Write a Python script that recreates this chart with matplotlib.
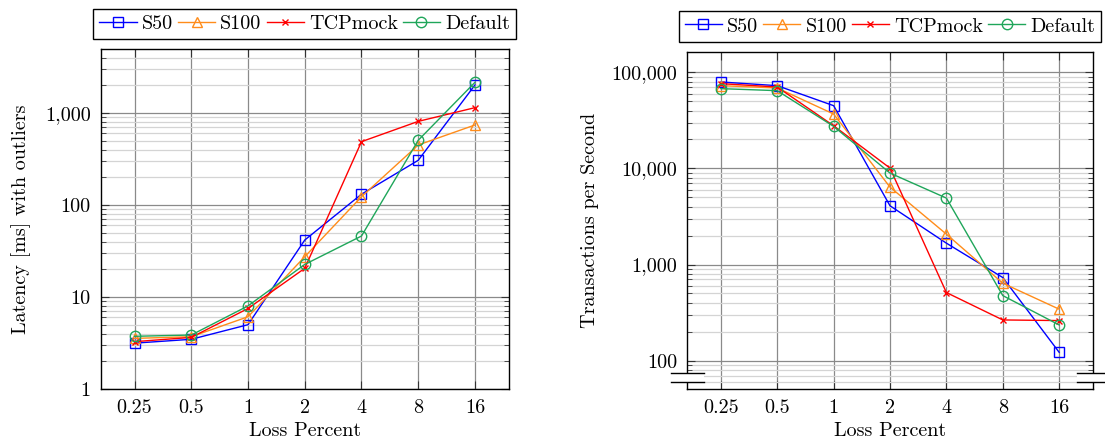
import matplotlib
matplotlib.use("Agg")
import matplotlib.pyplot as plt
import matplotlib.ticker as mticker
from matplotlib.lines import Line2D
from matplotlib.patches import Rectangle

plt.rcParams['font.family'] = ['cmr10', 'DejaVu Serif']
plt.rcParams['mathtext.fontset'] = 'cm'
plt.rcParams['axes.formatter.use_mathtext'] = True
plt.rcParams['font.size'] = 14.5

loss = ['0.25', '0.5', '1', '2', '4', '8', '16']
series = ['S50', 'S100', 'TCPmock', 'Default']

# latency [ms] with outliers
lat_s50 = [3.15, 3.47, 5.0, 41.6, 131, 306, 2015]
lat_s100 = [3.55, 3.7, 6.1, 27.4, 123, 449, 741]
lat_tcp = [3.27, 3.64, 7.5, 20.5, 488, 811, 1143]
lat_def = [3.74, 3.86, 8.0, 22.6, 46, 505, 2154]

# transactions per second
tps_s50 = [79300, 72600, 44950, 4085, 1668, 732, 122]
tps_s100 = [72600, 68700, 36800, 6390, 2070, 639, 343]
tps_tcp = [76200, 70300, 27800, 10070, 511, 265, 261]
tps_def = [67600, 64400, 27380, 8940, 4910, 475, 235]

colors = ['#0000ff', '#ff8c1a', '#ff0000', '#1fa65a']
markers = ['s', '^', 'x', 'o']
msizes = [7.5, 6.5, 5, 7.5]


def draw(ax, data, ylim, yticks, ylabels, ylabel, lpad):
    x = list(range(len(loss)))
    for vals, name, c, m, ms in zip(data, series, colors, markers, msizes):
        ax.plot(x, vals, color=c, marker=m, ms=ms, mfc='none', mec=c,
                mew=1.0, lw=1.0, label=name, zorder=3)
    ax.set_yscale('log')
    ax.set_ylim(*ylim)
    ax.set_xlim(-0.6, len(loss) - 0.4)
    ax.set_xticks(x)
    ax.set_xticklabels(loss)
    ax.yaxis.set_major_locator(mticker.FixedLocator(yticks))
    ax.yaxis.set_major_formatter(mticker.FixedFormatter(ylabels))
    ax.yaxis.set_minor_locator(mticker.LogLocator(base=10, subs=range(2, 10), numticks=20))
    ax.yaxis.set_minor_formatter(mticker.NullFormatter())
    ax.set_axisbelow(True)
    ax.grid(which='major', color='#8a8a8a', lw=0.9)
    ax.grid(which='minor', axis='y', color='#d4d4d4', lw=0.9)
    ax.tick_params(which='both', direction='in', top=True, right=True, color='#333333')
    ax.tick_params(which='major', length=5.5, pad=7)
    ax.tick_params(which='minor', length=3.5)
    for s in ax.spines.values():
        s.set_linewidth(1.0)
    ax.set_xlabel('Loss Percent', labelpad=4)
    ax.set_ylabel(ylabel, labelpad=lpad)
    leg = ax.legend(loc='lower center', bbox_to_anchor=(0.5, 1.03), ncol=4,
                    frameon=True, fancybox=False, framealpha=1, edgecolor='black',
                    handlelength=1.85, handletextpad=0.25, columnspacing=0.25,
                    borderpad=0.3, borderaxespad=0, numpoints=1)
    leg.get_frame().set_linewidth(1.0)


fig = plt.figure(figsize=(11.05, 4.45), dpi=100)
ax1 = fig.add_axes([100.5 / 1105, 1 - 389 / 445, 408.5 / 1105, 339.7 / 445])
ax2 = fig.add_axes([687 / 1105, 1 - 389.3 / 445, 406 / 1105, 337.6 / 445])

draw(ax1, [lat_s50, lat_s100, lat_tcp, lat_def], (1, 4925),
     [1, 10, 100, 1000], ['1', '10', '100', '1,000'], 'Latency [ms] with outliers', 10)
draw(ax2, [tps_s50, tps_s100, tps_tcp, tps_def], (50.3, 163800),
     [100, 1000, 10000, 100000], ['100', '1,000', '10,000', '100,000'],
     'Transactions per Second', 9)

# y axis discontinuity on the right chart
tr = ax2.transAxes
h = ax2.get_position().height * 445
y_lo = (389.3 - 381.5) / h
y_hi = (389.3 - 373.3) / h
for xc in (0, 1):
    dx = 16.5 / (ax2.get_position().width * 1105)
    ax2.add_patch(Rectangle((xc - dx, y_lo), 2 * dx, y_hi - y_lo, transform=tr,
                            facecolor='white', edgecolor='none', clip_on=False, zorder=5))
    for yy in (y_lo, y_hi):
        ax2.add_line(Line2D([xc - dx, xc + dx], [yy, yy], transform=tr, color='black',
                            lw=1.0, clip_on=False, zorder=6))

fig.savefig('out.png', dpi=100)
